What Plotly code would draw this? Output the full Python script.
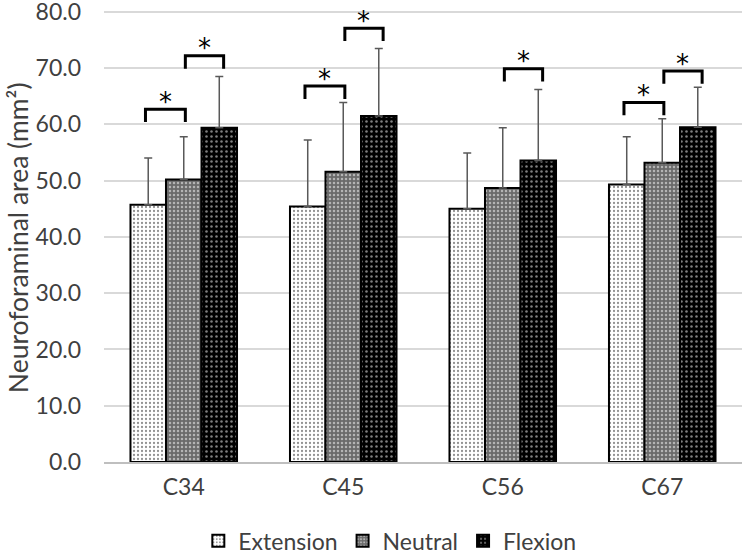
import plotly.graph_objects as go

categories = ["C34", "C45", "C56", "C67"]
series_names = ["Extension", "Neutral", "Flexion"]
extension = [45.7, 45.4, 45.0, 49.3]
extension_sd = [8.3, 11.8, 9.9, 8.5]
neutral = [50.2, 51.6, 48.7, 53.2]
neutral_sd = [7.6, 12.3, 10.7, 7.8]
flexion = [59.4, 61.5, 53.6, 59.5]
flexion_sd = [9.1, 12.0, 12.6, 7.1]

# significance brackets: category, from-series index, to-series index, bracket height
bracket_cat = ["C34", "C34", "C45", "C45", "C56", "C67", "C67"]
bracket_from = [0, 1, 0, 1, 1, 0, 1]
bracket_to = [1, 2, 1, 2, 2, 1, 2]
bracket_y = [62.7, 72.2, 66.8, 77.1, 69.9, 63.9, 69.5]

y_ticks = [0, 10, 20, 30, 40, 50, 60, 70, 80]

FONT = "Lato"
TXT = "#404040"

values = [extension, neutral, flexion]
sds = [extension_sd, neutral_sd, flexion_sd]
patterns = [
    dict(shape=".", bgcolor="white", fgcolor="#222222", size=4, solidity=0.25),
    dict(shape=".", bgcolor="#6a6a6a", fgcolor="white", size=4, solidity=0.3),
    dict(shape=".", bgcolor="black", fgcolor="white", size=5, solidity=0.2),
]

fig = go.Figure()
for name, v, sd, pat in zip(series_names, values, sds, patterns):
    fig.add_trace(go.Bar(
        x=categories, y=v, name=name,
        marker=dict(color=pat["bgcolor"], pattern=pat,
                    line=dict(color="black", width=2)),
        error_y=dict(type="data", array=sd, arrayminus=[0] * len(sd),
                     symmetric=False, color="#595959", thickness=1.5, width=4),
    ))

end_offsets = [-0.24, 0.01, 0.25]
drop = 2.3
for cat, a, b, yb in zip(bracket_cat, bracket_from, bracket_to, bracket_y):
    ci = categories.index(cat)
    x0 = ci + end_offsets[a]
    x1 = ci + end_offsets[b]
    fig.add_shape(type="path", xref="x", yref="y",
                  path=f"M {x0},{yb - drop} L {x0},{yb} L {x1},{yb} L {x1},{yb - drop}",
                  line=dict(color="black", width=3))
    fig.add_annotation(x=(x0 + x1) / 2, y=yb + 1.3, xref="x", yref="y",
                       text="*", showarrow=False, yanchor="middle",
                       font=dict(family="DejaVu Sans", size=26, color="black"))

fig.add_annotation(text="Neuroforaminal area (mm²)", textangle=-90,
                   xref="paper", yref="paper", x=-0.1345, y=0.4945,
                   xanchor="center", yanchor="middle", showarrow=False,
                   font=dict(family=FONT, size=26.5, color=TXT))

fig.update_layout(
    width=750, height=554,
    margin=dict(l=104, r=8, t=9, b=92, autoexpand=False),
    paper_bgcolor="white", plot_bgcolor="white",
    barmode="group", bargap=0.332, bargroupgap=0,
    font=dict(family=FONT, size=23, color=TXT),
    showlegend=True,
    hovermode=False,
    legend=dict(orientation="h", x=0.448, xanchor="center", y=-0.174,
                yanchor="middle", font=dict(family=FONT, size=23, color=TXT),
                itemclick=False),
    xaxis=dict(showgrid=False, showline=True, linecolor="#bfbfbf", linewidth=1.5,
               ticks="", automargin=False, ticklabelstandoff=4,
               tickfont=dict(family=FONT, size=23, color=TXT)),
    yaxis=dict(range=[0, 80.5], tickvals=y_ticks, tickformat=".1f",
               showgrid=True, gridcolor="#d9d9d9", gridwidth=1.5,
               zeroline=False, showline=False, ticks="", automargin=False,
               ticklabelstandoff=22, ticklabeloverflow="allow",
               tickfont=dict(family=FONT, size=23, color=TXT)),
)

fig.write_html("out.html", config={"displayModeBar": False},
               post_script="document.body.style.margin='0';")
